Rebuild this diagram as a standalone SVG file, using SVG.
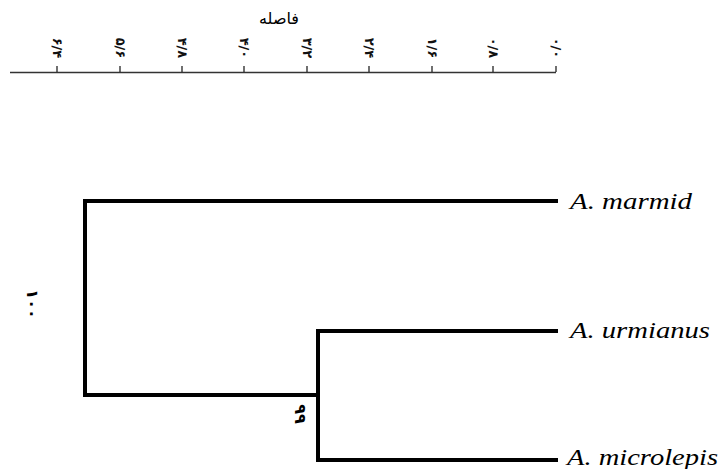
<svg xmlns="http://www.w3.org/2000/svg" width="723" height="469" viewBox="0 0 723 469">
<style>
.axis{stroke:#333;stroke-width:1.5;fill:none}
.tick{stroke:#222;stroke-width:1.3}
.tl{font-family:"DejaVu Sans",sans-serif;font-size:13px;font-weight:bold;fill:#111;text-anchor:middle;dominant-baseline:central}
.title{font-family:"DejaVu Sans",sans-serif;font-size:16px;fill:#000;text-anchor:middle}
.branch{stroke:#000;stroke-width:4;fill:none;stroke-linecap:square;stroke-linejoin:miter}
.leaf{font-family:"Liberation Serif",serif;font-style:italic;font-size:24px;fill:#000}
.boot{font-family:"DejaVu Sans",sans-serif;font-size:16px;font-weight:bold;fill:#000;text-anchor:middle;dominant-baseline:central}
</style>
<g id="scale">
<text class="title" x="279" y="24">فاصله</text>
<line class="axis" x1="10" y1="72.5" x2="556" y2="72.5"/>
<g class="tick">
<line x1="57" y1="66" x2="57" y2="72"/>
<line x1="120" y1="66" x2="120" y2="72"/>
<line x1="182" y1="66" x2="182" y2="72"/>
<line x1="244" y1="66" x2="244" y2="72"/>
<line x1="307" y1="66" x2="307" y2="72"/>
<line x1="369" y1="66" x2="369" y2="72"/>
<line x1="432" y1="66" x2="432" y2="72"/>
<line x1="493" y1="66" x2="493" y2="72"/>
<line x1="556" y1="66" x2="556" y2="72"/>
</g>
<text class="tl" transform="translate(57,48) rotate(90)">۶/۴</text>
<text class="tl" transform="translate(120,48) rotate(90)">۵/۶</text>
<text class="tl" transform="translate(182,48) rotate(90)">۴/۸</text>
<text class="tl" transform="translate(244,48) rotate(90)">۴/۰</text>
<text class="tl" transform="translate(307,48) rotate(90)">۳/۲</text>
<text class="tl" transform="translate(369,48) rotate(90)">۲/۴</text>
<text class="tl" transform="translate(432,48) rotate(90)">۱/۶</text>
<text class="tl" transform="translate(493,48) rotate(90)">۰/۸</text>
<text class="tl" transform="translate(556,48) rotate(90)">۰/۰</text>
</g>
<g id="connectors">
<path class="branch" d="M556 201 H85 V395 H318"/>
<path class="branch" d="M556 331 H318 V460 H556"/>
</g>
<g id="node-root">
<text class="boot" transform="translate(32,304) rotate(90)">۱۰۰</text>
</g>
<g id="node-inner">
<text class="boot" transform="translate(300,414) rotate(90)">۹۹</text>
</g>
<g id="leaf-marmid">
<text class="leaf" x="570" y="209" textLength="122" lengthAdjust="spacingAndGlyphs">A. marmid</text>
</g>
<g id="leaf-urmianus">
<text class="leaf" x="570" y="338" textLength="140" lengthAdjust="spacingAndGlyphs">A. urmianus</text>
</g>
<g id="leaf-microlepis">
<text class="leaf" x="567" y="465" textLength="151" lengthAdjust="spacingAndGlyphs">A. microlepis</text>
</g>
</svg>
